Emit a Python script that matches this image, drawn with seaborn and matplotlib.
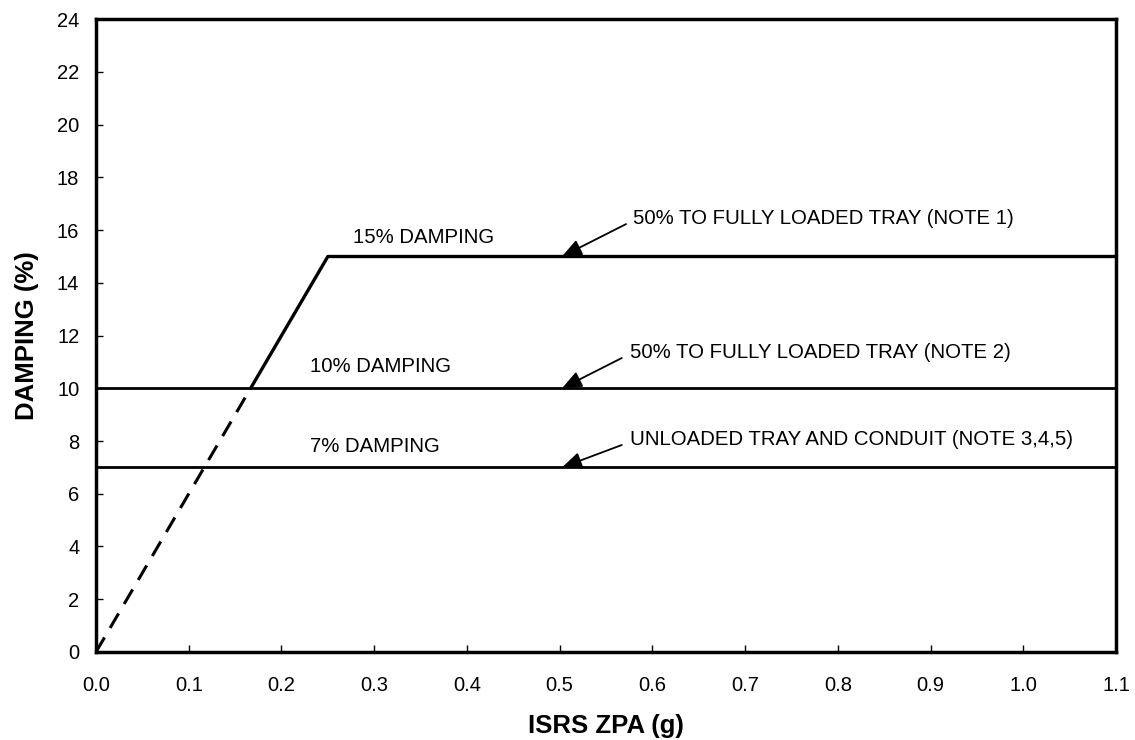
import numpy as np
import pandas as pd
import seaborn as sns
import matplotlib
matplotlib.use('Agg')
import matplotlib.pyplot as plt

# damping curves (ISRS ZPA in g, damping in %)
dashed_x = [0.0, 0.1667]
dashed_y = [0.0, 10.0]
ramp_x = [0.1667, 0.25, 1.1]
ramp_y = [10.0, 15.0, 15.0]
level_x = [0.0, 1.1]
level10_y = [10.0, 10.0]
level7_y = [7.0, 7.0]

curve_labels = ['15% DAMPING', '10% DAMPING', '7% DAMPING']
curve_label_xy = [(0.277, 15.73), (0.231, 10.84), (0.231, 7.81)]
notes = ['50% TO FULLY LOADED TRAY (NOTE 1)',
         '50% TO FULLY LOADED TRAY (NOTE 2)',
         'UNLOADED TRAY AND CONDUIT (NOTE 3,4,5)']
note_tip = [(0.5025, 15.0), (0.5025, 10.0), (0.5025, 7.0)]
note_tail = [(0.5716, 16.23), (0.567, 11.15), (0.567, 7.85)]
note_text_xy = [(0.579, 16.45), (0.576, 11.34), (0.576, 8.04)]

sns.set_style('white')
plt.rcParams['font.family'] = ['Liberation Sans', 'DejaVu Sans']
plt.rcParams['text.color'] = 'black'
plt.rcParams['axes.labelcolor'] = 'black'
plt.rcParams['xtick.color'] = 'black'
plt.rcParams['ytick.color'] = 'black'

fig = plt.figure(figsize=(11.35, 7.4), dpi=100)
ax = fig.add_axes([0.0846, 0.119, 0.8987, 0.855])

sns.lineplot(x=dashed_x, y=dashed_y, ax=ax, color='black', lw=2.2,
             estimator=None, sort=False)
ax.lines[-1].set_dashes((5.5, 3.6))
sns.lineplot(x=ramp_x, y=ramp_y, ax=ax, color='black', lw=2.4,
             estimator=None, sort=False)
sns.lineplot(x=level_x, y=level10_y, ax=ax, color='black', lw=2.0,
             estimator=None, sort=False)
sns.lineplot(x=level_x, y=level7_y, ax=ax, color='black', lw=2.0,
             estimator=None, sort=False)

for lab, (x, y) in zip(curve_labels, curve_label_xy):
    ax.text(x, y, lab, fontsize=14.7, va='center', ha='left', color='black')

for lab, tip, tail, (x, y) in zip(notes, note_tip, note_tail, note_text_xy):
    ax.annotate('', xy=tip, xytext=tail,
                arrowprops=dict(arrowstyle='-|>,head_length=1.2,head_width=0.5',
                                mutation_scale=10, color='black', lw=1.3,
                                shrinkA=0, shrinkB=0))
    ax.text(x, y, lab, fontsize=14.7, va='center', ha='left', color='black')

ax.set_xlim(0, 1.1)
ax.set_ylim(0, 24)
ax.set_xticks(np.arange(0, 1.11, 0.1))
ax.set_xticklabels(['%.1f' % v for v in np.arange(0, 1.11, 0.1)])
ax.set_yticks(np.arange(0, 25, 2))
ax.tick_params(direction='in', length=5, width=1, labelsize=14.5,
               bottom=True, left=True)
ax.tick_params(axis='x', pad=17)
ax.tick_params(axis='y', pad=12)
for s in ax.spines.values():
    s.set_linewidth(2.5)
    s.set_color('black')

ax.set_xlabel('ISRS ZPA (g)', fontsize=18.5, fontweight='bold', labelpad=14)
ax.set_ylabel('DAMPING (%)', fontsize=18.5, fontweight='bold', labelpad=13)

fig.savefig('out.png', dpi=100)
